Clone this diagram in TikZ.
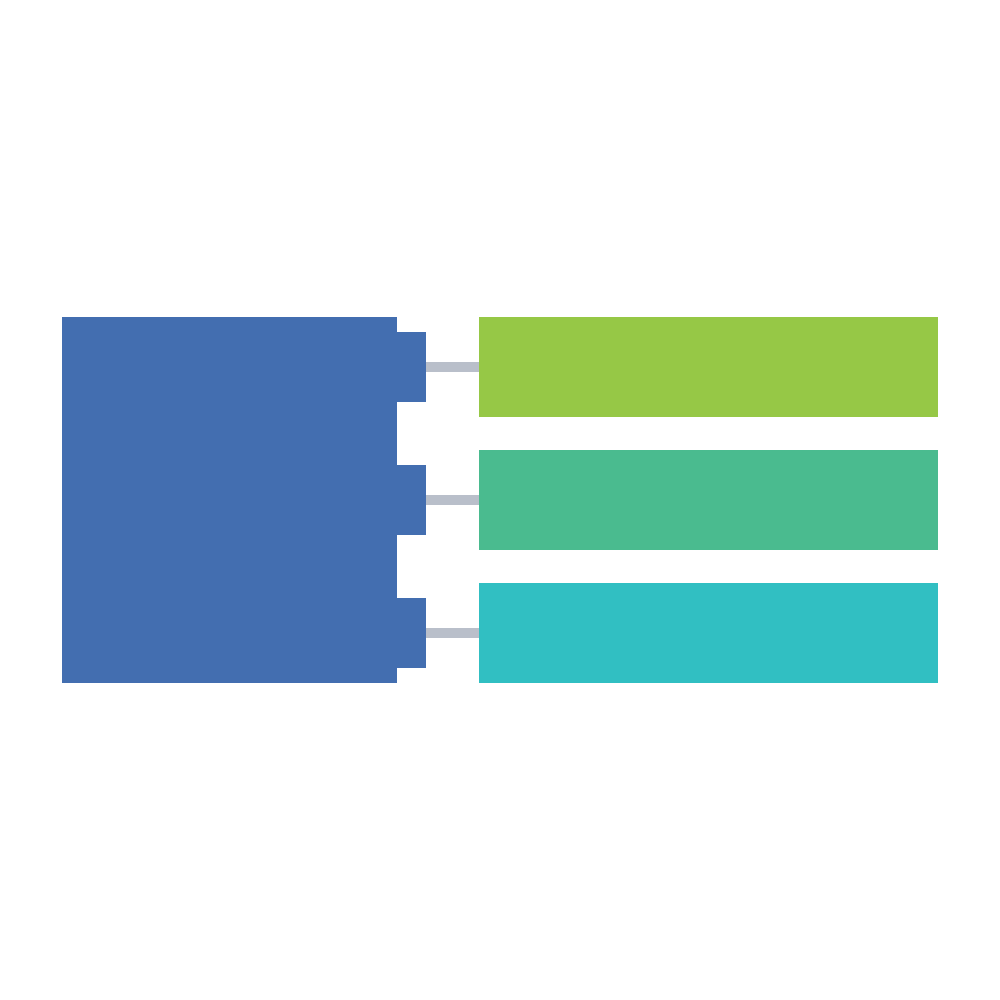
\documentclass[tikz,border=0pt]{standalone}
\usepackage{tikz}
\usetikzlibrary{positioning}

\definecolor{blockblue}{HTML}{436EB0}
\definecolor{barlime}{HTML}{96C846}
\definecolor{barjade}{HTML}{4ABB8F}
\definecolor{barcyan}{HTML}{31BFC2}
\definecolor{linkgray}{HTML}{B9BFCA}

\begin{document}
\begin{tikzpicture}[block/.style={rectangle, inner sep=0pt, outer sep=0pt, draw=none, fill=blockblue},
                    tab/.style={rectangle, inner sep=0pt, outer sep=0pt, draw=none, fill=blockblue, minimum width=0.30cm, minimum height=0.70cm},
                    bar/.style={rectangle, inner sep=0pt, outer sep=0pt, draw=none, minimum width=4.59cm, minimum height=1.00cm},
                    link/.style={draw=linkgray, line width=0.1cm}]
            \useasboundingbox (0,0) rectangle (10,-10);
            \node[block, minimum width=3.35cm, minimum height=3.66cm] (hub) at (2.295,-5.00) {};
            \node[tab] (tab_1) at (4.11,-3.67) {};
            \node[tab] (tab_2) at (4.11,-5.00) {};
            \node[tab] (tab_3) at (4.11,-6.33) {};
            \node[bar, fill=barlime] (bar_1) at (7.085,-3.67) {};
            \node[bar, fill=barjade] (bar_2) at (7.085,-5.00) {};
            \node[bar, fill=barcyan] (bar_3) at (7.085,-6.33) {};
                \path[link]
                (tab_1) -- (bar_1)
                (tab_2) -- (bar_2)
                (tab_3) -- (bar_3);
\end{tikzpicture}
\end{document}
